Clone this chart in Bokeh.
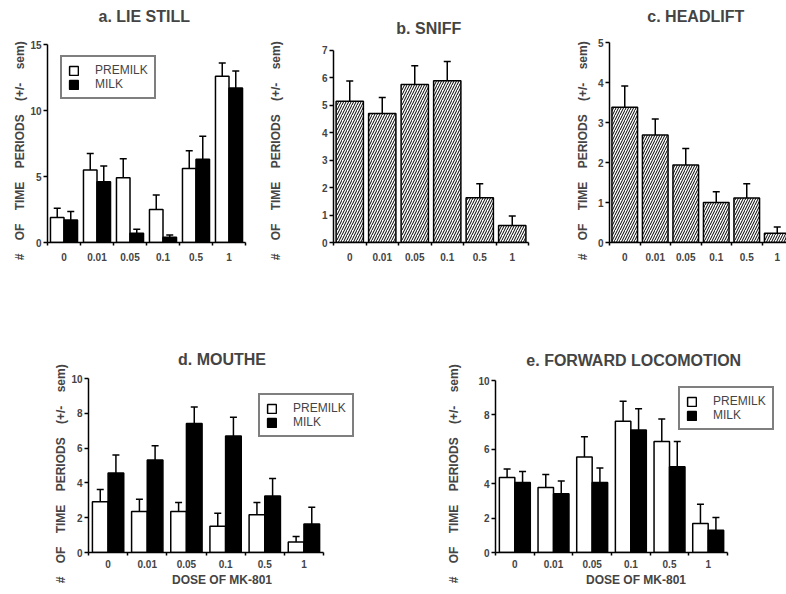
import numpy as np
from bokeh.plotting import figure
from bokeh.layouts import row, column
from bokeh.models import (Range1d, FixedTicker, ColumnDataSource, Whisker, TeeHead,
                          Legend, LegendItem, LinearAxis)
from bokeh.embed import file_html
from bokeh.resources import INLINE

# ---------------- data ----------------
doses = ["0", "0.01", "0.05", "0.1", "0.5", "1"]

lie_still_premilk = [1.9, 5.5, 4.9, 2.5, 5.6, 12.6]
lie_still_premilk_sem = [0.7, 1.25, 1.45, 1.1, 1.35, 1.0]
lie_still_milk = [1.7, 4.6, 0.7, 0.4, 6.3, 11.7]
lie_still_milk_sem = [0.65, 1.2, 0.3, 0.17, 1.75, 1.3]

sniff = [5.15, 4.7, 5.76, 5.9, 1.63, 0.62]
sniff_sem = [0.74, 0.59, 0.68, 0.7, 0.51, 0.35]

headlift = [3.38, 2.69, 1.94, 1.0, 1.11, 0.23]
headlift_sem = [0.53, 0.4, 0.41, 0.27, 0.36, 0.16]

mouthe_premilk = [2.92, 2.36, 2.36, 1.51, 2.17, 0.6]
mouthe_premilk_sem = [0.7, 0.7, 0.51, 0.75, 0.7, 0.32]
mouthe_milk = [4.57, 5.32, 7.42, 6.7, 3.25, 1.64]
mouthe_milk_sem = [1.03, 0.81, 0.94, 1.07, 1.0, 0.96]

loco_premilk = [4.36, 3.78, 5.55, 7.63, 6.45, 1.68]
loco_premilk_sem = [0.5, 0.76, 1.18, 1.16, 1.31, 1.12]
loco_milk = [4.07, 3.42, 4.07, 7.12, 4.99, 1.29]
loco_milk_sem = [0.64, 0.73, 0.85, 1.24, 1.46, 0.75]

y_ticks_lie = [0, 5, 10, 15]
y_ticks_sniff = [0, 1, 2, 3, 4, 5, 6, 7]
y_ticks_head = [0, 1, 2, 3, 4, 5]
y_ticks_bottom = [0, 2, 4, 6, 8, 10]

series_names = ["PREMILK", "MILK"]

# ---------------- styling ----------------
FONT = "Liberation Sans"
NB = "\u00a0" * 4
YLABEL = NB.join(["#", "OF", "TIME", "PERIODS", "(+/-", "sem)"]) + "\u00a0" * 5
XLABEL = "DOSE OF MK-801"

n = len(doses)
centers = [i + 0.5 for i in range(n)]
bounds = [float(i) for i in range(n + 1)]


def make_fig(title, y_ticks, y_end, x_end, width, height, bl, br, bt, bb,
             title_gap, xlabel=None, label_standoff=4):
    p = figure(width=width, height=height, title=None,
               min_border_left=bl, min_border_right=br,
               min_border_top=bt, min_border_bottom=bb,
               x_range=Range1d(0, x_end), y_range=Range1d(0, y_end),
               output_backend="svg", toolbar_location=None, tools="")
    p.outline_line_color = None
    p.grid.visible = False
    p.background_fill_color = "white"
    p.border_fill_color = "white"

    # title drawn as the label of an empty axis above the frame
    ta = LinearAxis(ticker=FixedTicker(ticks=[]), axis_label=title)
    ta.axis_line_color = None
    ta.major_tick_line_color = None
    ta.minor_tick_line_color = None
    ta.major_tick_out = 0
    ta.major_tick_in = 0
    ta.minor_tick_out = 0
    ta.major_label_standoff = 0
    ta.major_label_text_font_size = "1px"
    ta.axis_label_standoff = title_gap
    ta.axis_label_text_font = FONT
    ta.axis_label_text_font_size = "16px"
    ta.axis_label_text_font_style = "bold"
    p.add_layout(ta, "above")

    # x axis
    xa = p.below[0]
    xa.ticker = FixedTicker(ticks=centers, minor_ticks=bounds)
    xa.bounds = (0, n)
    xa.major_label_overrides = {float(c): d for c, d in zip(centers, doses)}
    xa.major_tick_line_color = None
    xa.major_tick_out = 0
    xa.major_tick_in = 0
    xa.minor_tick_out = 3
    xa.minor_tick_in = 0
    xa.minor_tick_line_width = 1.5
    xa.major_label_standoff = 7
    xa.axis_line_width = 1.5
    xa.major_label_text_font = FONT
    xa.major_label_text_font_size = "10px"
    xa.major_label_text_font_style = "bold"
    if xlabel:
        xa.major_label_standoff = 4
        xa.axis_label = xlabel
        xa.axis_label_text_font = FONT
        xa.axis_label_text_font_size = "12px"
        xa.axis_label_text_font_style = "bold"
        xa.axis_label_standoff = 2

    # y axis
    ya = p.left[0]
    ya.ticker = FixedTicker(ticks=y_ticks)
    ya.bounds = (0, y_ticks[-1])
    ya.minor_tick_line_color = None
    ya.major_tick_out = 4
    ya.major_tick_in = 0
    ya.major_tick_line_width = 1.5
    ya.axis_line_width = 1.5
    ya.major_label_standoff = 2
    ya.major_label_text_font = FONT
    ya.major_label_text_font_size = "10px"
    ya.major_label_text_font_style = "bold"
    ya.axis_label = YLABEL
    ya.axis_label_text_font = FONT
    ya.axis_label_text_font_size = "12px"
    ya.axis_label_text_font_style = "bold"
    ya.axis_label_standoff = label_standoff
    return p


def add_whisker(p, xs, vals, sems):
    src = ColumnDataSource(dict(x=xs, lower=list(vals),
                                upper=[v + s for v, s in zip(vals, sems)]))
    w = Whisker(source=src, base="x", lower="lower", upper="upper",
                dimension="height", line_color="black", line_width=1.5,
                upper_head=TeeHead(size=7, line_color="black", line_width=1.5),
                lower_head=None)
    p.add_layout(w)


def paired(p, prem, prem_sem, milk, milk_sem, bw, off, legend_loc):
    xp = [c - off for c in centers]
    xm = [c + off for c in centers]
    r1 = p.vbar(x=xp, top=prem, width=bw, fill_color="white",
                line_color="black", line_width=1.5)
    r2 = p.vbar(x=xm, top=milk, width=bw, fill_color="black",
                line_color="black", line_width=1.5)
    add_whisker(p, xp, prem, prem_sem)
    add_whisker(p, xm, milk, milk_sem)
    leg = Legend(items=[LegendItem(label=series_names[0], renderers=[r1]),
                        LegendItem(label=series_names[1], renderers=[r2])],
                 location=legend_loc)
    leg.border_line_color = "black"
    leg.border_line_width = 2
    leg.background_fill_color = "white"
    leg.background_fill_alpha = 1
    leg.label_text_font = FONT
    leg.label_text_font_size = "12px"
    leg.glyph_width = 11
    leg.glyph_height = 11
    leg.label_height = 11
    leg.label_standoff = 16
    leg.padding = 6
    leg.spacing = 0
    leg.margin = 0
    p.add_layout(leg)


def hatched(p, vals, sems):
    p.vbar(x=centers, top=vals, width=0.84, fill_color="white",
           line_color="black", line_width=1.5,
           hatch_pattern="/", hatch_color="black", hatch_scale=5,
           hatch_weight=1)
    add_whisker(p, centers, vals, sems)


# ---- top row: common frame top 42, bottom 242 ----
pa = make_fig("a.  LIE STILL", y_ticks_lie, 15 + 2 / 13.2, 6, 262, 296, 47, 17, 42, 54, 18,
              label_standoff=0)
paired(pa, lie_still_premilk, lie_still_premilk_sem, lie_still_milk,
       lie_still_milk_sem, 0.41, 0.205, (13, 143))

pb = make_fig("b.  SNIFF", y_ticks_sniff, 7 + 8 / 27.43, 6, 298, 296, 71, 32, 42, 54, 6,
              label_standoff=36)
hatched(pb, sniff, sniff_sem)

pc = make_fig("c.  HEADLIFT", y_ticks_head, 5, 177 / 30.5, 226, 296, 49, 0, 42, 54, 18,
              label_standoff=5)
hatched(pc, headlift, headlift_sem)

# ---- bottom row: frame top 378, bottom ~553 ----
pd = make_fig("d. MOUTHE", y_ticks_bottom, 10, 267 / 39.17, 440, 296, 88, 85, 82, 40, 11,
              xlabel=XLABEL, label_standoff=0)
paired(pd, mouthe_premilk, mouthe_premilk_sem, mouthe_milk, mouthe_milk_sem,
       0.4, 0.2, (170, 115))

pe = make_fig("e.  FORWARD LOCOMOTION", y_ticks_bottom, 10 + 2 / 17.2, 281 / 38.67, 338, 296,
              55, 2, 82, 40, 10, xlabel=XLABEL, label_standoff=14)
paired(pe, loco_premilk, loco_premilk_sem, loco_milk, loco_milk_sem,
       0.4, 0.2, (183, 122))

layout = column(row(pa, pb, pc), row(pd, pe))

open("out.html", "w").write(file_html(layout, INLINE))
